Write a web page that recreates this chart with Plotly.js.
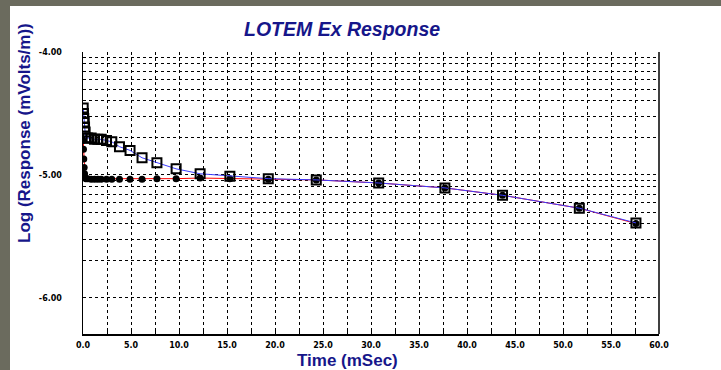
<!DOCTYPE html>
<html>
<head>
<meta charset="utf-8">
<script src="https://cdn.plot.ly/plotly-3.0.1.min.js"></script>
<style>
  html, body { margin: 0; padding: 0; width: 721px; height: 370px; overflow: hidden; background: #6b6b5e; }
  #chart { position: absolute; left: 10px; top: 6px; width: 711px; height: 364px; background: #ffffff; }
</style>
</head>
<body>
<div id="chart"></div>
<script>
// Time samples (mSec)
const timeMs = [0.02, 0.05, 0.08, 0.12, 0.16, 0.22, 0.3, 0.5, 0.85, 1.2, 1.55, 1.9, 2.45, 3.0, 3.8, 4.9, 6.15, 7.7, 9.7, 12.2, 15.3, 19.3, 24.3, 30.8, 37.7, 43.7, 51.7, 57.6];
// Log10 response, series with open squares (blue line)
const logRespSquares = [-4.455, -4.50, -4.54, -4.57, -4.61, -4.65, -4.70, -4.70, -4.70, -4.71, -4.71, -4.71, -4.72, -4.73, -4.77, -4.80, -4.86, -4.90, -4.95, -4.99, -5.01, -5.03, -5.04, -5.065, -5.105, -5.165, -5.27, -5.39];
// Log10 response, series with filled circles (red line)
const logRespCircles = [-4.72, -4.79, -4.87, -4.94, -4.99, -5.02, -5.03, -5.03, -5.035, -5.035, -5.035, -5.035, -5.035, -5.035, -5.035, -5.035, -5.035, -5.03, -5.03, -5.025, -5.03, -5.035, -5.04, -5.065, -5.105, -5.165, -5.27, -5.395];

const xTickVals = [0, 2.5, 5, 7.5, 10, 12.5, 15, 17.5, 20, 22.5, 25, 27.5, 30, 32.5, 35, 37.5, 40, 42.5, 45, 47.5, 50, 52.5, 55, 57.5, 60];
const xTickText = xTickVals.map(v => (v % 5 === 0) ? v.toFixed(1) : '');
const yDecades = [-6, -5];

// y gridlines at log10(k * 10^d)
const yTickVals = [];
const yTickText = [];
yDecades.forEach(d => {
  for (let k = 1; k <= 9; k++) {
    const v = d + Math.log10(k);
    yTickVals.push(v);
    yTickText.push(k === 1 ? v.toFixed(2) : '');
  }
});
yTickVals.push(-4); yTickText.push('-4.00');

const navy = '#16168a';
const tickFont = { family: 'DejaVu Sans, Liberation Sans, Arial', size: 8, color: '#000000', weight: 'bold' };

const traces = [
  {
    x: timeMs, y: logRespCircles, type: 'scatter', mode: 'lines+markers',
    line: { color: '#ff0000', width: 1 },
    marker: { symbol: 'circle', size: 7, color: '#000000' },
    hoverinfo: 'skip', showlegend: false
  },
  {
    x: timeMs, y: logRespSquares, type: 'scatter', mode: 'lines+markers',
    line: { color: 'rgb(60,60,255)', width: 1 },
    marker: { symbol: 'square-open', size: 9, color: '#000000', line: { width: 2, color: '#000000' } },
    hoverinfo: 'skip', showlegend: false
  }
];

const layout = {
  width: 711, height: 364,
  margin: { l: 73, r: 62, t: 46, b: 36 },
  paper_bgcolor: '#ffffff', plot_bgcolor: '#ffffff',
  showlegend: false,
  xaxis: {
    range: [0, 60], tickmode: 'array', tickvals: xTickVals, ticktext: xTickText,
    ticks: 'inside', ticklen: 4, tickcolor: '#000000', tickwidth: 1,
    showgrid: true, gridcolor: '#000000', gridwidth: 1, griddash: '3px,3px',
    zeroline: false, showline: true, linecolor: '#000000', linewidth: 1.5, mirror: false,
    tickfont: tickFont, ticklabelstandoff: 3
  },
  yaxis: {
    range: [-6.293, -4], tickmode: 'array', tickvals: yTickVals, ticktext: yTickText,
    ticks: '', showgrid: true, gridcolor: '#000000', gridwidth: 1, griddash: '3px,3px',
    zeroline: false, showline: true, linecolor: '#000000', linewidth: 1.5,
    tickfont: tickFont, ticklabelstandoff: 18
  },
  shapes: [
    { type: 'line', xref: 'paper', yref: 'paper', x0: 1, x1: 1, y0: 0, y1: 1, line: { color: '#000000', width: 1.5 } }
  ],
  annotations: [
    { text: '<b><i>LOTEM Ex Response</i></b>', xref: 'paper', yref: 'paper', x: 0.4497, y: 1.0816,
      xanchor: 'center', yanchor: 'middle', showarrow: false,
      font: { family: 'Liberation Sans, Arial', size: 19.5, color: navy } },
    { text: '<b>Time (mSec)</b>', xref: 'paper', yref: 'paper', x: 0.46, y: -0.094,
      xanchor: 'center', yanchor: 'middle', showarrow: false,
      font: { family: 'Liberation Sans, Arial', size: 17, color: navy } },
    { text: '<b>Log (Response (mVolts/m))</b>', xref: 'paper', yref: 'paper', x: -0.1007, y: 0.7128,
      xanchor: 'center', yanchor: 'middle', textangle: -90, showarrow: false,
      font: { family: 'Liberation Sans, Arial', size: 17, color: navy } }
  ]
};

Plotly.newPlot('chart', traces, layout, { staticPlot: true, displayModeBar: false });
</script>
</body>
</html>
